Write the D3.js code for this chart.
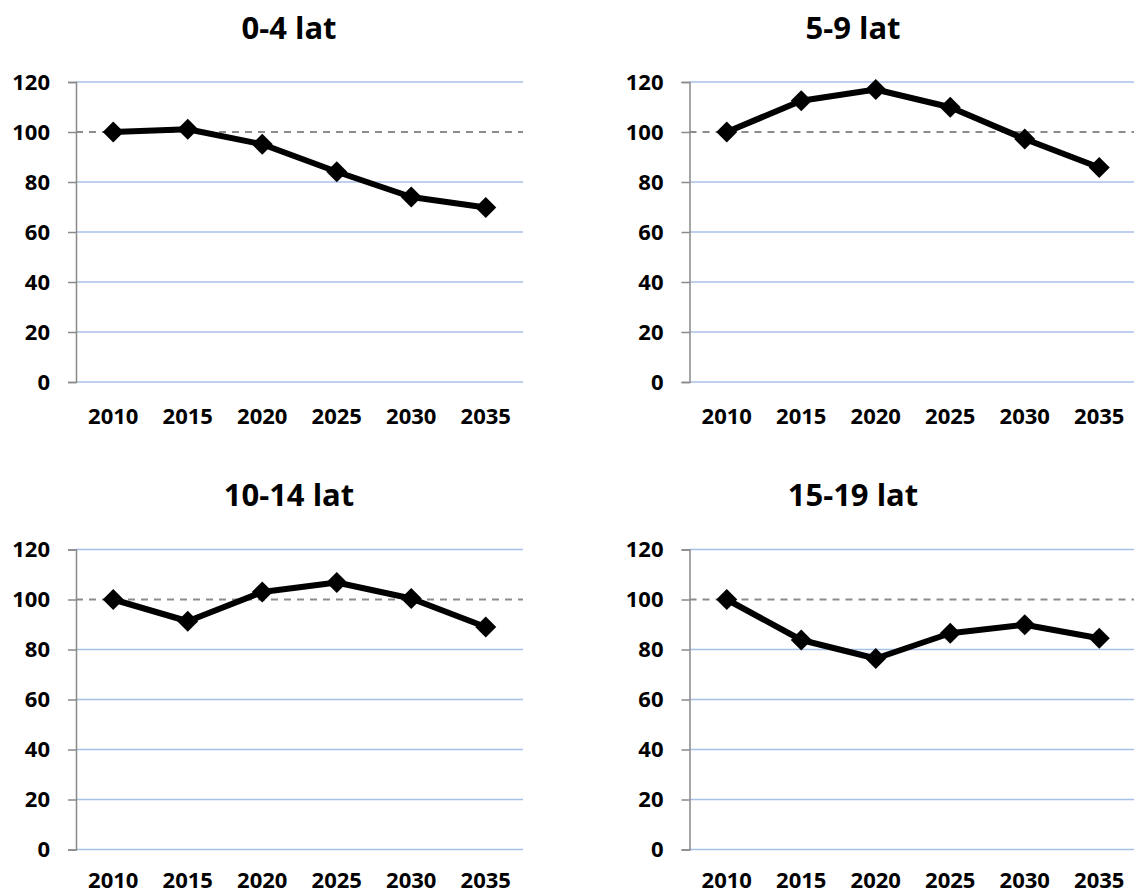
<!DOCTYPE html>
<html>
<head>
<meta charset="utf-8">
<script src="https://cdn.jsdelivr.net/npm/d3@7"></script>
<style>
  html, body { margin: 0; padding: 0; background: #fff; }
  svg { display: block; }
  text { font-family: "Open Sans", Lato, sans-serif; font-weight: 700; fill: #000; }
</style>
</head>
<body>
<svg id="chart" width="1134" height="894"></svg>
<script>
// ---- data ----
const years = ["2010", "2015", "2020", "2025", "2030", "2035"];
const titles = ["0-4 lat", "5-9 lat", "10-14 lat", "15-19 lat"];
const age0_4   = [100, 101.1, 95.1, 84.1, 74.0, 69.8];
const age5_9   = [100, 112.5, 117.0, 109.9, 97.2, 85.8];
const age10_14 = [100, 91.3, 103.0, 106.8, 100.4, 89.0];
const age15_19 = [100, 83.8, 76.4, 86.5, 89.9, 84.5];
const yTicks = [0, 20, 40, 60, 80, 100, 120];
const referenceValue = 100;

const seriesList = [age0_4, age5_9, age10_14, age15_19];

// ---- layout ----
const plotW = 447, plotH = 300;
const panelPos = [
  { ox: 76,    oy: 82,    tx: 289, ty: 39,  xpad: 26 },
  { ox: 689.5, oy: 82,    tx: 853, ty: 39,  xpad: 26 },
  { ox: 76,    oy: 549.5, tx: 289, ty: 506, xpad: 22.5 },
  { ox: 689.5, oy: 549.5, tx: 853, ty: 506, xpad: 22.5 }
];

const svg = d3.select("#chart");

const x = d3.scaleBand().domain(years).range([0, plotW]);
const y = d3.scaleLinear().domain([0, 120]).range([plotH, 0]);

seriesList.forEach((vals, i) => {
  const p = panelPos[i];

  svg.append("text")
    .attr("x", p.tx).attr("y", p.ty)
    .attr("text-anchor", "middle")
    .style("font-size", "31px")
    .text(titles[i]);

  const g = svg.append("g").attr("transform", `translate(${p.ox},${p.oy})`);

  // gridlines
  g.append("g").selectAll("line")
    .data(yTicks.filter(t => t !== referenceValue))
    .join("line")
    .attr("x1", 0).attr("x2", plotW)
    .attr("y1", d => y(d)).attr("y2", d => y(d))
    .attr("stroke", "#a9c0e8")
    .attr("stroke-width", 1.4);

  // reference dashed line at 100
  g.append("line")
    .attr("x1", 0).attr("x2", plotW)
    .attr("y1", y(referenceValue)).attr("y2", y(referenceValue))
    .attr("stroke", "#8c8c8c")
    .attr("stroke-width", 2)
    .attr("stroke-dasharray", "7,6");

  // y axis
  const ya = g.append("g")
    .call(d3.axisLeft(y).tickValues(yTicks).tickSize(8).tickPadding(18));
  ya.selectAll("path, line").attr("stroke", "#898989").attr("stroke-width", 1.5);
  ya.selectAll("text")
    .style("font-size", "22px")
    .style("font-family", "'Open Sans', Lato, sans-serif")
    .style("font-weight", 700)
    .attr("fill", "#000");

  // x axis
  const xa = g.append("g")
    .attr("transform", `translate(0,${plotH})`)
    .call(d3.axisBottom(x).tickSize(0).tickPadding(p.xpad));
  xa.select(".domain").remove();
  xa.selectAll("text")
    .style("font-size", "22px")
    .style("font-family", "'Open Sans', Lato, sans-serif")
    .style("font-weight", 700)
    .attr("fill", "#000");

  const data = years.map((yr, k) => ({ yr, v: vals[k] }));

  // line
  g.append("path")
    .datum(data)
    .attr("fill", "none")
    .attr("stroke", "#000")
    .attr("stroke-width", 6)
    .attr("stroke-linejoin", "round")
    .attr("d", d3.line()
      .x(d => x(d.yr) + x.bandwidth() / 2)
      .y(d => y(d.v)));

  // diamond markers
  const sym = d3.symbol().type(d3.symbolSquare).size(220);
  g.append("g").selectAll("path")
    .data(data)
    .join("path")
    .attr("d", sym)
    .attr("fill", "#000")
    .attr("transform", d => `translate(${x(d.yr) + x.bandwidth() / 2},${y(d.v)}) rotate(45)`);
});
</script>
</body>
</html>
